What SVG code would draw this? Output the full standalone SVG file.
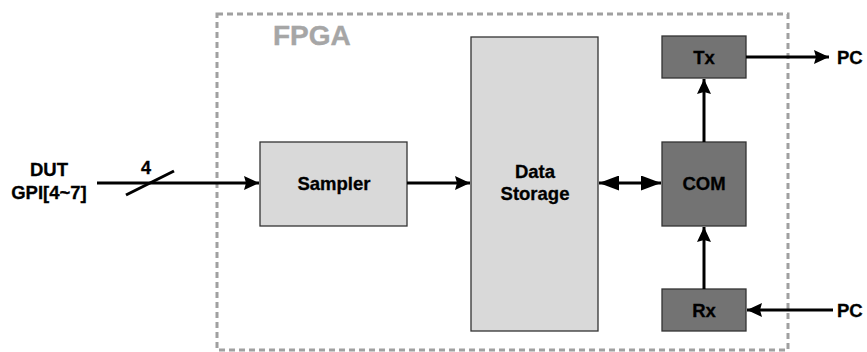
<svg xmlns="http://www.w3.org/2000/svg" width="867" height="352" viewBox="0 0 867 352">
  <style>
    .lbl { font-family: "Liberation Sans", Arial, sans-serif; font-weight: bold; font-size: 18.5px; fill: #000; text-anchor: middle; stroke: #000; stroke-width: 0.3; }
    .light { fill: #d9d9d9; stroke: #333; stroke-width: 1.3; }
    .dark { fill: #737373; stroke: #333; stroke-width: 1.3; }
    .wire { stroke: #000; stroke-width: 3; fill: none; }
  </style>
  <defs>
    <marker id="arrow" viewBox="0 0 15 14" refX="15" refY="7" markerWidth="15" markerHeight="14" markerUnits="userSpaceOnUse" orient="auto-start-reverse">
      <path d="M0,0 L15,7 L0,14 L2,7 Z" fill="#000"/>
    </marker>
    <marker id="arrow-wide" viewBox="0 0 20 15" refX="20" refY="7.5" markerWidth="20" markerHeight="15" markerUnits="userSpaceOnUse" orient="auto-start-reverse">
      <path d="M0,0 L20,7.5 L0,15 Z" fill="#000"/>
    </marker>
  </defs>
  <rect width="867" height="352" fill="#fff"/>

  <!-- FPGA boundary -->
  <g id="fpga">
    <rect x="217" y="14" width="571" height="336" fill="none" stroke="#a0a0a0" stroke-width="3" stroke-dasharray="6 4"/>
    <text x="273" y="45" font-family="Liberation Sans, Arial, sans-serif" font-weight="bold" font-size="28" fill="#a6a6a6" stroke="#a6a6a6" stroke-width="0.4">FPGA</text>
  </g>

  <g id="dut">
    <text class="lbl" x="49" y="176">DUT</text>
    <text class="lbl" x="49" y="199">GPI[4~7]</text>
  </g>

  <g id="sampler">
    <rect class="light" x="260" y="142" width="147" height="84"/>
    <text class="lbl" x="334" y="190">Sampler</text>
  </g>

  <g id="storage">
    <rect class="light" x="471" y="37" width="127" height="294"/>
    <text class="lbl" x="535" y="178">Data</text>
    <text class="lbl" x="535" y="200">Storage</text>
  </g>

  <g id="com">
    <rect class="dark" x="662" y="142" width="84" height="84"/>
    <text class="lbl" x="704" y="190">COM</text>
  </g>

  <g id="tx">
    <rect class="dark" x="662" y="36" width="84" height="42"/>
    <text class="lbl" x="704" y="64">Tx</text>
  </g>

  <g id="rx">
    <rect class="dark" x="662" y="289" width="84" height="42"/>
    <text class="lbl" x="704" y="317">Rx</text>
  </g>

  <g id="pc-out">
    <text class="lbl" x="837" y="64" style="text-anchor:start">PC</text>
  </g>
  <g id="pc-in">
    <text class="lbl" x="837" y="317" style="text-anchor:start">PC</text>
  </g>

  <g id="connectors">
    <!-- 4-bit bus into the sampler -->
    <line class="wire" x1="97" y1="183" x2="259" y2="183" marker-end="url(#arrow)"/>
    <line class="wire" x1="126" y1="195" x2="174" y2="171"/>
    <text class="lbl" x="146" y="174" style="font-size:18px">4</text>
    <line class="wire" x1="407" y1="183" x2="470" y2="183" marker-end="url(#arrow)"/>
    <line class="wire" x1="599" y1="183" x2="661" y2="183" marker-start="url(#arrow-wide)" marker-end="url(#arrow-wide)"/>
    <line class="wire" x1="704" y1="142" x2="704" y2="79" marker-end="url(#arrow)"/>
    <line class="wire" x1="704" y1="289" x2="704" y2="227" marker-end="url(#arrow)"/>
    <line class="wire" x1="746" y1="57" x2="829" y2="57" marker-end="url(#arrow)"/>
    <line class="wire" x1="833" y1="310" x2="747" y2="310" marker-end="url(#arrow)"/>
  </g>
</svg>
